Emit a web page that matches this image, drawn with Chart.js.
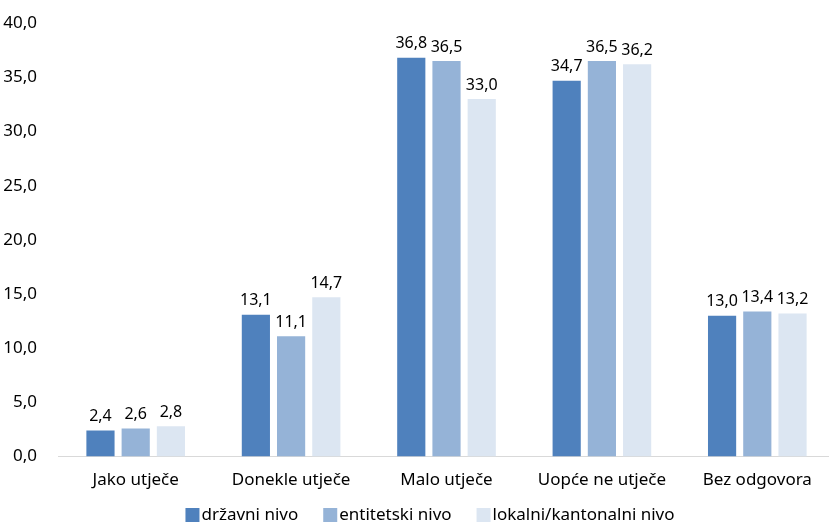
<!DOCTYPE html>
<html>
<head>
<meta charset="utf-8">
<script src="https://cdn.jsdelivr.net/npm/chart.js@4"></script>
<style>
  html, body { margin: 0; padding: 0; background: #fff; overflow: hidden; }
  #wrap { width: 835px; height: 523px; }
</style>
</head>
<body>
<div id="wrap"><canvas id="grafikon"></canvas></div>
<script>
// podaci
const kategorije = ['Jako utječe', 'Donekle utječe', 'Malo utječe', 'Uopće ne utječe', 'Bez odgovora'];
const drzavni = [2.4, 13.1, 36.8, 34.7, 13.0];
const entitetski = [2.6, 11.1, 36.5, 36.5, 13.4];
const lokalni = [2.8, 14.7, 33.0, 36.2, 13.2];
const nazivi = ['državni nivo', 'entitetski nivo', 'lokalni/kantonalni nivo'];
const boje = ['#4F81BD', '#95B3D7', '#DCE6F2'];

const fmt = v => v.toFixed(1).replace('.', ',');
const FONT = '"Noto Sans", "Open Sans", sans-serif';
const VEL = 17;

// vrijednosti iznad stupaca
const oznake = {
  id: 'oznake',
  afterDatasetsDraw(chart) {
    const ctx = chart.ctx;
    ctx.save();
    ctx.font = '16px ' + FONT;
    ctx.fillStyle = '#000';
    ctx.textAlign = 'center';
    ctx.textBaseline = 'bottom';
    chart.data.datasets.forEach((ds, i) => {
      chart.getDatasetMeta(i).data.forEach((bar, j) => {
        ctx.fillText(fmt(ds.data[j]), bar.x, bar.y - 6);
      });
    });
    ctx.restore();
  }
};

// legenda ispod grafikona (kvadratic tik uz tekst)
const legenda = {
  id: 'legenda',
  afterDraw(chart) {
    const ctx = chart.ctx;
    ctx.save();
    ctx.font = VEL + 'px ' + FONT;
    ctx.textBaseline = 'middle';
    ctx.textAlign = 'left';
    const box = 14, razmak = 2, izmedju = 25;
    const sirine = chart.data.datasets.map(ds => box + razmak + ctx.measureText(ds.label).width);
    const ukupno = sirine.reduce((a, b) => a + b, 0) + izmedju * (sirine.length - 1);
    let x = 430 - ukupno / 2;
    const y = 515;
    chart.data.datasets.forEach((ds, i) => {
      ctx.fillStyle = ds.backgroundColor;
      ctx.fillRect(x, y - box / 2, box, box);
      ctx.fillStyle = '#000';
      ctx.fillText(ds.label, x + box + razmak, y);
      x += sirine[i] + izmedju;
    });
    ctx.restore();
  }
};

new Chart(document.getElementById('grafikon'), {
  type: 'bar',
  data: {
    labels: kategorije,
    datasets: [drzavni, entitetski, lokalni].map((d, i) => ({
      label: nazivi[i],
      data: d,
      backgroundColor: boje[i],
      categoryPercentage: 0.68,
      barPercentage: 0.8
    }))
  },
  options: {
    responsive: true,
    maintainAspectRatio: false,
    animation: false,
    layout: { padding: { top: 0, right: 0, left: 0, bottom: 28 } },
    plugins: {
      tooltip: { enabled: false },
      legend: { display: false }
    },
    scales: {
      x: {
        grid: { display: false },
        border: { color: '#D9D9D9', width: 1 },
        ticks: { font: { size: VEL, family: FONT }, color: '#000', padding: 5 }
      },
      y: {
        min: 0, max: 40,
        grid: { display: false },
        border: { display: false },
        afterFit: s => { s.width = 58; },
        ticks: {
          stepSize: 5,
          font: { size: VEL, family: FONT },
          color: '#000',
          padding: 13,
          callback: v => fmt(v)
        }
      }
    }
  },
  plugins: [oznake, legenda]
});
</script>
</body>
</html>
